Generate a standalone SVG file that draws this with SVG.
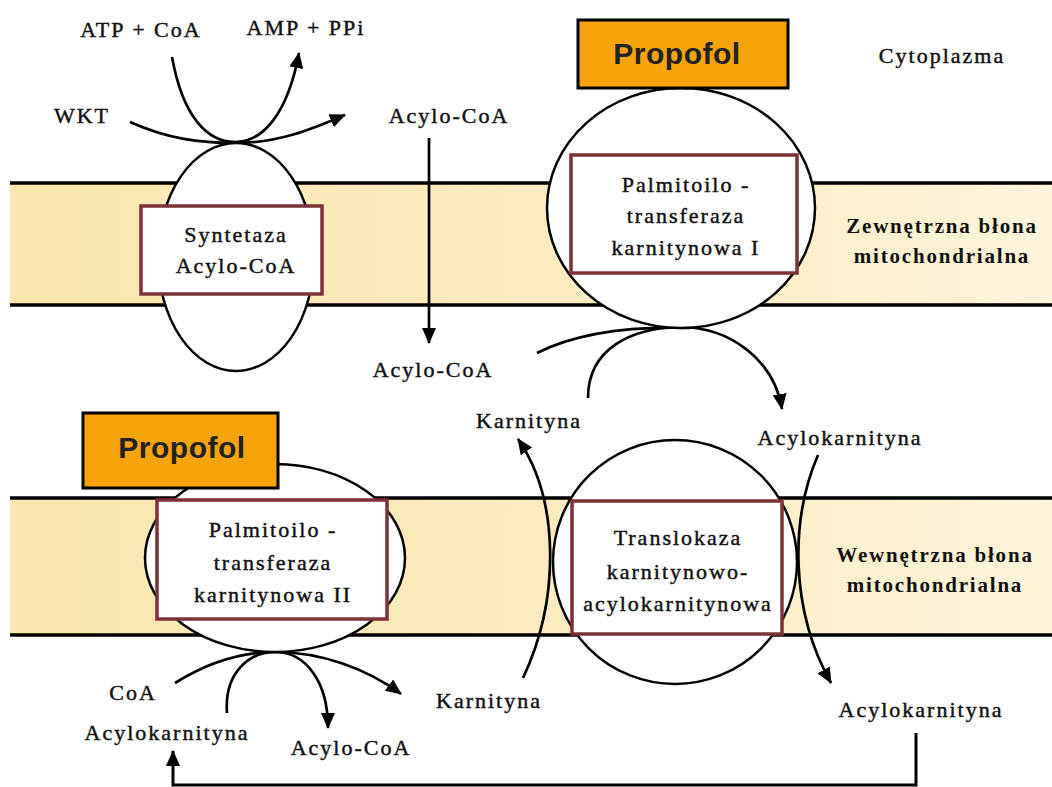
<svg xmlns="http://www.w3.org/2000/svg" width="1052" height="787" viewBox="0 0 1052 787">
<defs>
<linearGradient id="band" x1="0" y1="0" x2="1" y2="0">
<stop offset="0" stop-color="#FBE6AE"/>
<stop offset="0.6" stop-color="#FCECC2"/>
<stop offset="1" stop-color="#FEF4DA"/>
</linearGradient>
<marker id="ah" viewBox="0 0 16 14" refX="15" refY="7" markerWidth="16" markerHeight="14" markerUnits="userSpaceOnUse" orient="auto">
<path d="M0,0 L16,7 L0,14 Z" fill="#000"/>
</marker>
<style>
.t{font-family:"Liberation Serif","Times New Roman",serif;font-size:22px;fill:#111;stroke:#111;stroke-width:0.45px;text-anchor:middle;letter-spacing:2px}
.m{font-family:"Liberation Serif","Times New Roman",serif;font-size:21px;font-weight:bold;fill:#111;text-anchor:middle;letter-spacing:1.8px}
.p{font-family:"Liberation Sans",Arial,sans-serif;font-size:30px;font-weight:bold;fill:#222;text-anchor:middle;letter-spacing:0.5px}
.pb{fill:#F7A30A;stroke:#000;stroke-width:3}
.enz{fill:#fff;stroke:#000;stroke-width:2.5}
.box{fill:#fff;stroke:#7E3038;stroke-width:3.5}
.c{fill:none;stroke:#000;stroke-width:2.7}
.ca{fill:none;stroke:#000;stroke-width:2.7;marker-end:url(#ah)}
.ml{stroke:#000;stroke-width:3.5}
</style>
</defs>
<rect width="1052" height="787" fill="#fff"/>
<g id="membranes">
<rect x="10" y="183" width="1042" height="122" fill="url(#band)"/>
<line class="ml" x1="10" y1="183" x2="1052" y2="183"/>
<line class="ml" x1="10" y1="305" x2="1052" y2="305"/>
<rect x="10" y="498" width="1042" height="137" fill="url(#band)"/>
<line class="ml" x1="10" y1="498" x2="1052" y2="498"/>
<line class="ml" x1="10" y1="635" x2="1052" y2="635"/>
</g>
<g id="connectors">
<path class="ca" d="M172,57 C183,118 208,142 235,142 C264,142 288,112 299,53"/>
<path class="ca" d="M130,122 C168,139 200,143 235,143 C280,143 314,128 345,115"/>
<path class="ca" d="M429,138 L429,343"/>
<path class="c" d="M537,353 C575,334 628,326 690,328"/>
<path class="ca" d="M588,398 C588,348 632,328 680,327 C730,327 774,360 782,409"/>
<path class="ca" d="M523,678 C560,600 560,500 518,439"/>
<path class="ca" d="M818,455 C790,520 790,610 831,683"/>
<path class="ca" d="M175,683 C210,661 245,652 275,652 C320,652 366,668 401,694"/>
<path class="ca" d="M227,713 C224,672 250,652 275,652 C306,652 328,682 328,728"/>
<path class="ca" style="stroke-width:3" d="M916,733 L916,785 L173,785 L173,751"/>
</g>
<g id="syntetaza">
<ellipse class="enz" cx="236" cy="257" rx="78" ry="114"/>
<rect class="box" x="141" y="206" width="181" height="88"/>
<text class="t" x="236" y="242">Syntetaza</text>
<text class="t" x="236" y="273">Acylo-CoA</text>
</g>
<g id="cpt1">
<ellipse class="enz" cx="681" cy="208" rx="134" ry="120"/>
<rect class="box" x="571" y="155" width="226" height="118"/>
<text class="t" x="686" y="192">Palmitoilo -</text>
<text class="t" x="686" y="223">transferaza</text>
<text class="t" x="686" y="255">karnitynowa I</text>
</g>
<g id="propofol1">
<rect class="pb" x="578" y="20" width="210" height="68"/>
<text class="p" x="677" y="64">Propofol</text>
</g>
<g id="cpt2">
<ellipse class="enz" cx="275" cy="558" rx="130" ry="94"/>
<rect class="box" x="157" y="500" width="230" height="119"/>
<text class="t" x="273" y="537">Palmitoilo -</text>
<text class="t" x="273" y="570">transferaza</text>
<text class="t" x="273" y="602">karnitynowa II</text>
</g>
<g id="propofol2">
<rect class="pb" x="83" y="413" width="195" height="75"/>
<text class="p" x="182" y="458">Propofol</text>
</g>
<g id="translokaza">
<circle class="enz" cx="675" cy="562" r="122"/>
<rect class="box" x="572" y="501" width="210" height="133"/>
<text class="t" x="678" y="545">Translokaza</text>
<text class="t" x="678" y="579">karnitynowo-</text>
<text class="t" x="678" y="611">acylokarnitynowa</text>
</g>
<g id="labels">
<text class="t" x="141" y="37">ATP + CoA</text>
<text class="t" x="306" y="35">AMP + PPi</text>
<text class="t" x="82" y="123">WKT</text>
<text class="t" x="449" y="123">Acylo-CoA</text>
<text class="t" x="433" y="377">Acylo-CoA</text>
<text class="t" x="942" y="63">Cytoplazma</text>
<text class="m" x="942" y="233">Zewnętrzna błona</text>
<text class="m" x="942" y="263">mitochondrialna</text>
<text class="t" x="529" y="428">Karnityna</text>
<text class="t" x="840" y="445">Acylokarnityna</text>
<text class="m" x="935" y="562">Wewnętrzna błona</text>
<text class="m" x="935" y="592">mitochondrialna</text>
<text class="t" x="489" y="708">Karnityna</text>
<text class="t" x="921" y="717">Acylokarnityna</text>
<text class="t" x="133" y="700">CoA</text>
<text class="t" x="167" y="740">Acylokarnityna</text>
<text class="t" x="351" y="755">Acylo-CoA</text>
</g>
</svg>
